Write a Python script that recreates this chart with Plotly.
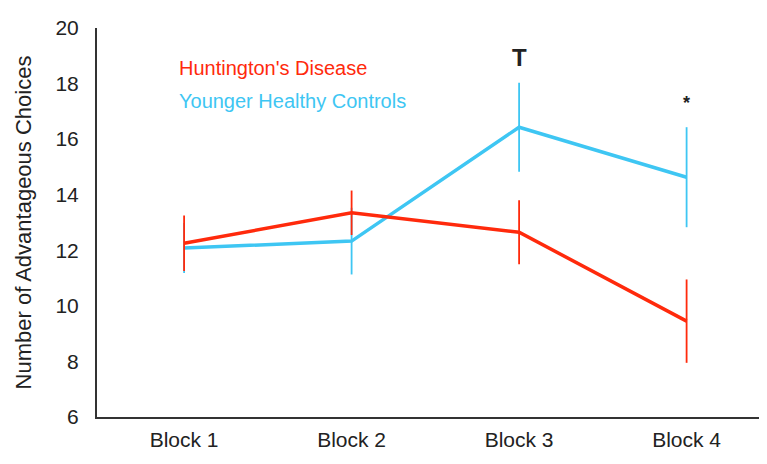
import plotly.graph_objects as go

categories = ["Block 1", "Block 2", "Block 3", "Block 4"]
hd_values = [12.25, 13.35, 12.65, 9.45]
hd_errors = [1.0, 0.8, 1.15, 1.5]
yhc_values = [12.08, 12.33, 16.43, 14.63]
yhc_errors = [0.9, 1.2, 1.6, 1.8]
y_ticks = [6, 8, 10, 12, 14, 16, 18, 20]

RED = "#ff2a0c"
BLUE = "#3ec6f3"

fig = go.Figure()
fig.add_trace(go.Scatter(
    x=[0, 1, 2, 3], y=yhc_values, mode="lines",
    line=dict(color=BLUE, width=3.5),
    error_y=dict(type="data", array=yhc_errors, color=BLUE, thickness=1.8, width=0),
    name="Younger Healthy Controls", showlegend=False))
fig.add_trace(go.Scatter(
    x=[0, 1, 2, 3], y=hd_values, mode="lines",
    line=dict(color=RED, width=3.5),
    error_y=dict(type="data", array=hd_errors, color=RED, thickness=1.8, width=0),
    name="Huntington's Disease", showlegend=False))

font_family = "Liberation Sans, Arial, sans-serif"

fig.add_annotation(x=-0.04, y=18.55, xref="x", yref="y", text="Huntington's Disease",
                   showarrow=False, xanchor="left", yanchor="middle",
                   font=dict(color=RED, size=20, family=font_family))
fig.add_annotation(x=-0.04, y=17.37, xref="x", yref="y", text="Younger Healthy Controls",
                   showarrow=False, xanchor="left", yanchor="middle",
                   font=dict(color=BLUE, size=20, family=font_family))
fig.add_annotation(x=2, y=18.95, xref="x", yref="y", text="<b>T</b>",
                   showarrow=False, font=dict(color="#222", size=24, family=font_family))
fig.add_annotation(x=3, y=17.3, xref="x", yref="y", text="<b>*</b>",
                   showarrow=False, font=dict(color="#222", size=18, family=font_family))

fig.update_layout(
    width=767, height=464,
    margin=dict(l=89, r=8, t=20, b=55),
    plot_bgcolor="white", paper_bgcolor="white",
    font=dict(family=font_family, color="#333"),
)
fig.update_xaxes(
    range=[-0.52, 3.48], tickmode="array", tickvals=[0, 1, 2, 3], ticktext=categories,
    showgrid=False, zeroline=False, showline=True, linecolor="#333", linewidth=2,
    ticks="", tickfont=dict(size=21, color="#222"), ticklabelstandoff=3, automargin=False,
)
fig.update_yaxes(
    range=[6, 20], tickmode="array", tickvals=y_ticks,
    showgrid=False, zeroline=False, showline=True, linecolor="#333", linewidth=2,
    ticks="", tickfont=dict(size=21, color="#222"), ticklabelstandoff=12, automargin=False,
    title=dict(text="Number of Advantageous Choices", font=dict(size=22, color="#222"), standoff=18),
)

fig.write_html("out.html")
